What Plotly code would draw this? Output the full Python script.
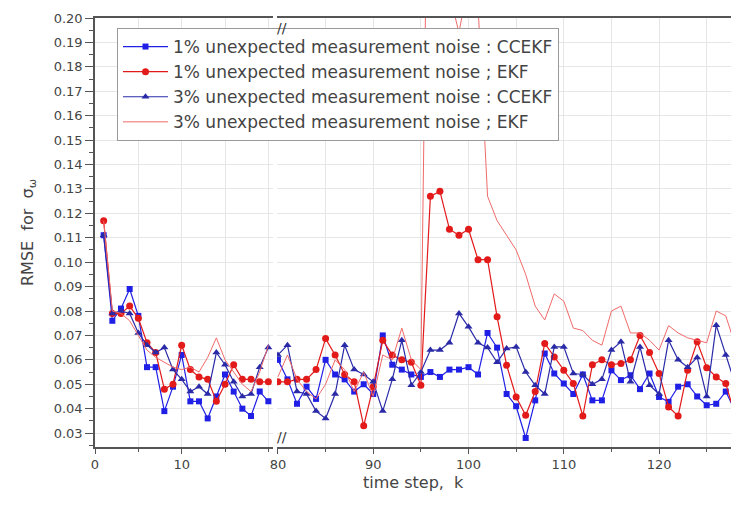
import plotly.graph_objects as go

# time steps on each side of the axis break
k_early = list(range(1, 21))
k_late = list(range(80, 129))

# RMSE of sigma_omega, steps 1..20
ccekf_1_early = [0.111, 0.076, 0.081, 0.089, 0.078, 0.057, 0.057, 0.039, 0.049, 0.062,
                 0.043, 0.043, 0.036, 0.045, 0.054, 0.047, 0.040, 0.037, 0.047, 0.043]
ekf_1_early = [0.117, 0.079, 0.079, 0.082, 0.077, 0.067, 0.063, 0.048, 0.050, 0.066,
               0.056, 0.053, 0.052, 0.043, 0.050, 0.058, 0.052, 0.052, 0.051, 0.051]
ccekf_3_early = [0.111, 0.079, 0.080, 0.079, 0.071, 0.066, 0.063, 0.065, 0.056, 0.052,
                 0.047, 0.049, 0.046, 0.063, 0.058, 0.051, 0.045, 0.046, 0.057, 0.065]
ekf_3_early = [0.117, 0.080, 0.079, 0.076, 0.070, 0.064, 0.061, 0.059, 0.057, 0.056,
               0.057, 0.055, 0.061, 0.069, 0.060, 0.055, 0.050, 0.047, 0.055, 0.066]

# RMSE of sigma_omega, steps 80..128
ccekf_1_late = [0.060, 0.052, 0.042, 0.049, 0.044, 0.060, 0.054, 0.052, 0.047, 0.050,
                0.046, 0.070, 0.058, 0.056, 0.054, 0.053, 0.055, 0.053, 0.056, 0.056,
                0.057, 0.054, 0.071, 0.065, 0.046, 0.041, 0.028, 0.0434, 0.0626, 0.0544,
                0.0503, 0.046, 0.054, 0.0434, 0.0434, 0.0557, 0.0517, 0.0537, 0.048, 0.0544,
                0.0448, 0.0428, 0.049, 0.050, 0.045, 0.0414, 0.042, 0.047, 0.039]
ekf_1_late = [0.051, 0.051, 0.052, 0.052, 0.056, 0.0687, 0.062, 0.054, 0.051, 0.033,
              0.049, 0.068, 0.062, 0.060, 0.059, 0.0496, 0.127, 0.129, 0.1135, 0.111,
              0.1135, 0.101, 0.101, 0.0776, 0.0578, 0.0448, 0.0373, 0.047, 0.0667, 0.0612,
              0.0557, 0.0503, 0.037, 0.058, 0.060, 0.058, 0.0585, 0.060, 0.070, 0.063,
              0.0544, 0.0407, 0.037, 0.0557, 0.0674, 0.0568, 0.053, 0.0503, 0.037]
ccekf_3_late = [0.062, 0.066, 0.047, 0.046, 0.039, 0.036, 0.046, 0.066, 0.056, 0.054,
                0.051, 0.039, 0.052, 0.068, 0.0496, 0.055, 0.064, 0.064, 0.067, 0.079,
                0.0735, 0.067, 0.065, 0.059, 0.0646, 0.0653, 0.055, 0.0496, 0.046, 0.0653,
                0.0653, 0.0544, 0.054, 0.050, 0.052, 0.064, 0.0674, 0.051, 0.0653, 0.0496,
                0.046, 0.068, 0.060, 0.057, 0.061, 0.045, 0.0742, 0.062, 0.050]
ekf_3_late = [0.053, 0.062, 0.052, 0.047, 0.044, 0.050, 0.060, 0.056, 0.047, 0.055,
              0.045, 0.062, 0.060, 0.073, 0.060, 0.056, 0.36, 0.30, 0.21, 0.194,
              0.215, 0.205, 0.127, 0.117, 0.111, 0.105, 0.095, 0.082, 0.0763, 0.087,
              0.084, 0.073, 0.072, 0.068, 0.066, 0.080, 0.082, 0.071, 0.071, 0.068,
              0.064, 0.074, 0.071, 0.069, 0.068, 0.067, 0.080, 0.078, 0.066]

series = [
    ("1% unexpected measurement noise : CCEKF", ccekf_1_early, ccekf_1_late,
     "#1f1fe6", 1.2, dict(symbol="square", size=6)),
    ("1% unexpected measurement noise ; EKF", ekf_1_early, ekf_1_late,
     "#e31a1a", 1.2, dict(symbol="circle", size=7)),
    ("3% unexpected measurement noise : CCEKF", ccekf_3_early, ccekf_3_late,
     "#2a2aa8", 1.2, dict(symbol="triangle-up", size=7)),
    ("3% unexpected measurement noise ; EKF", ekf_3_early, ekf_3_late,
     "#f06a6a", 1.0, None),
]

FONT = "DejaVu Sans"
TXT = "#444444"

fig = go.Figure()
for i, (name, early, late, color, lw, marker) in enumerate(series):
    mode = "lines+markers" if marker else "lines"
    mk = dict(color=color, **marker) if marker else None
    fig.add_trace(go.Scatter(x=k_early, y=early, name=name, mode=mode,
                             line=dict(color=color, width=lw), marker=mk,
                             legendgroup=str(i), xaxis="x", yaxis="y"))
    fig.add_trace(go.Scatter(x=k_late, y=late, name=name, mode=mode,
                             line=dict(color=color, width=lw), marker=mk,
                             legendgroup=str(i), showlegend=False,
                             xaxis="x2", yaxis="y"))

W, H = 731, 512
ML, MR, MT, MB = 95, 0, 18, 65
pw = W - ML - MR

left_end_px = 272.7
right_start_px = 277.0
d1 = (left_end_px - ML) / pw
d2 = (right_start_px - ML) / pw

axis_common = dict(
    showline=True, linecolor="#555555", linewidth=1.5, mirror=True,
    ticks="outside", ticklen=5, tickcolor="#555555",
    showgrid=True, gridcolor="#e6e6e6", gridwidth=1, zeroline=False,
    tickfont=dict(family=FONT, size=13, color=TXT),
)

fig.update_layout(
    width=W, height=H,
    margin=dict(l=ML, r=MR, t=MT, b=MB),
    paper_bgcolor="white", plot_bgcolor="white",
    xaxis=dict(domain=[0, d1], range=[0, 20.5], tickvals=[0, 10],
               minor=dict(tickvals=[5, 15, 20], ticks="outside", ticklen=3,
                          tickcolor="#555555", showgrid=True, gridcolor="#e6e6e6"),
               **axis_common),
    xaxis2=dict(domain=[d2, 1], range=[79.9, 127.55], anchor="y",
                tickvals=[80, 90, 100, 110, 120],
                minor=dict(tickvals=[85, 95, 105, 115, 125], ticks="outside", ticklen=3,
                           tickcolor="#555555", showgrid=True, gridcolor="#e6e6e6"),
                **axis_common),
    yaxis=dict(range=[0.0243, 0.20], dtick=0.01, tick0=0, tickformat=".2f",
               minor=dict(dtick=0.005, ticks="outside", ticklen=4, tickcolor="#555555"),
               title=dict(text="RMSE  for  σ<sub>ω</sub>",
                          font=dict(family=FONT, size=16, color=TXT), standoff=16),
               showline=True, linecolor="#555555", linewidth=1.5,
               ticks="outside", ticklen=8, tickcolor="#555555",
               showgrid=True, gridcolor="#e6e6e6", zeroline=False,
               tickfont=dict(family=FONT, size=13, color=TXT)),
    legend=dict(x=(117 - ML) / pw, y=1 - (28 - MT) / (H - MT - MB),
                xanchor="left", yanchor="top",
                bgcolor="white", bordercolor="#9a9a9a", borderwidth=1,
                font=dict(family=FONT, size=17, color=TXT),
                itemwidth=45, tracegroupgap=0),
    showlegend=True,
)

# x-axis title centred under both panels
fig.add_annotation(text="time step,  k", xref="paper", yref="paper",
                   x=0.5, y=0, yshift=-47, showarrow=False,
                   font=dict(family=FONT, size=16, color=TXT))

# axis-break marks on the bottom and top frame lines
gap_x = ((left_end_px + right_start_px) / 2 - ML) / pw
for yy in (0, 1):
    fig.add_annotation(text="//", xref="paper", yref="paper", x=gap_x, y=yy,
                       showarrow=False, font=dict(family=FONT, size=14, color="#333333"))

fig.write_html("out.html")
